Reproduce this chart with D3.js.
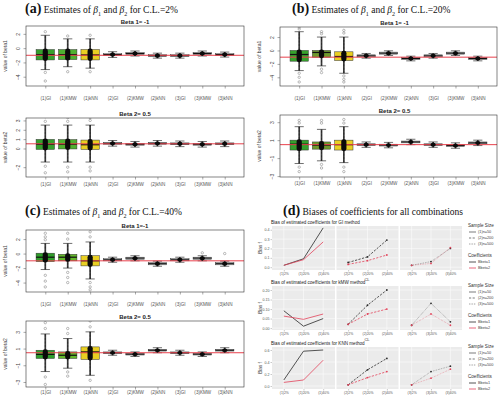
<!DOCTYPE html>
<html>
<head>
<meta charset="utf-8">
<title>Estimates and biases of beta1 and beta2</title>
<script src="https://d3js.org/d3.v7.min.js"></script>
<style>
  body { margin: 0; background: #fff; }
  text { font-family: "Liberation Sans", Arial, sans-serif; }
  .serif { font-family: "Liberation Serif", "Times New Roman", serif; }
</style>
</head>
<body>
<svg width="500" height="396"></svg>
<script>
// ---------- data ----------
const cats = ["(1)GI", "(1)KMW", "(1)kNN", "(2)GI", "(2)KMW", "(2)kNN", "(3)GI", "(3)KMW", "(3)kNN"];

// boxplot stats per category: [lower whisker, q1, median, q3, upper whisker]
const a1Stats = [[-3.0,-1.65,-0.9,-0.2,1.8],[-2.6,-1.6,-0.9,-0.2,1.3],[-2.8,-1.65,-0.95,-0.2,1.3],
  [-1.3,-1.05,-0.9,-0.75,-0.5],[-1.1,-0.9,-0.75,-0.6,-0.4],[-1.4,-1.2,-1.05,-0.9,-0.7],
  [-1.4,-1.2,-1.05,-0.9,-0.7],[-1.1,-0.9,-0.75,-0.6,-0.4],[-1.25,-1.05,-0.9,-0.75,-0.55]];
const a1Out = [[-3.4,-4.6,2.3],[-3.3,1.7],[-3.3,1.8],[],[],[],[],[],[]];

const a2Stats = [[-1.45,-0.1,0.45,0.97,2.5],[-1.45,-0.05,0.45,0.95,2.5],[-1.45,-0.1,0.4,0.9,2.5],
  [0.25,0.45,0.55,0.65,0.85],[0.15,0.35,0.45,0.55,0.75],[0.25,0.45,0.55,0.65,0.85],
  [0.2,0.4,0.5,0.6,0.8],[0.15,0.35,0.45,0.55,0.75],[0.2,0.4,0.5,0.6,0.8]];
const a2Out = [[2.9,3.4,-1.9,-2.6],[2.9,3.3,-2.0,-2.5],[3.0,3.3,-2.0,-2.4],[],[],[],[],[],[]];

const b1Stats = [[-3.0,-1.6,-0.6,0.0,2.8],[-2.3,-1.0,-0.3,0.0,2.0],[-3.4,-1.5,-0.9,-0.2,2.0],
  [-1.15,-0.95,-0.8,-0.65,-0.45],[-0.75,-0.55,-0.4,-0.25,-0.05],[-1.55,-1.35,-1.2,-1.05,-0.85],
  [-1.15,-0.95,-0.8,-0.65,-0.45],[-0.75,-0.55,-0.4,-0.25,-0.05],[-1.55,-1.35,-1.2,-1.05,-0.85]];
const b1Out = [[3.5,3.2,-3.4,-4.0,-4.7],[2.8,2.5,-2.8,-3.3],[3.0,2.6,-3.8,-4.3,-4.7],[],[],[],[],[],[]];

const b2Stats = [[-1.6,-0.1,0.55,1.0,2.5],[-1.3,0.0,0.45,0.8,2.2],[-1.5,-0.1,0.5,1.0,2.5],
  [0.2,0.4,0.5,0.6,0.8],[0.15,0.35,0.45,0.55,0.75],[0.5,0.7,0.8,0.9,1.1],
  [0.2,0.4,0.5,0.6,0.8],[0.1,0.3,0.4,0.5,0.7],[0.4,0.6,0.7,0.8,1.0]];
const b2Out = [[3.2,2.9,-2.0,-2.5],[2.9,3.2,-1.7,-2.1],[3.3,2.9,-2.0,-2.5],[],[],[],[],[],[]];

const c1Stats = [[-2.2,-1.1,-0.5,0.05,1.4],[-2.0,-1.0,-0.5,-0.1,1.4],[-3.5,-1.7,-1.0,-0.3,1.6],
  [-1.2,-1.0,-0.86,-0.7,-0.5],[-1.0,-0.8,-0.63,-0.5,-0.3],[-1.75,-1.55,-1.4,-1.25,-1.05],
  [-1.2,-1.0,-0.86,-0.7,-0.5],[-1.0,-0.8,-0.63,-0.5,-0.3],[-1.75,-1.55,-1.4,-1.25,-1.05]];
const c1Out = [[2.8,2.3,1.9,-3.0,-3.8,-4.6],[2.8,2.0,-2.6,-3.3,-4.0],[3.0,2.3,-4.0,-4.6,-5.0],[],[],[],[],[0.1],[0.0]];

const c2Stats = [[-1.75,-0.18,0.3,0.8,2.75],[-1.35,-0.18,0.2,0.6,2.2],[-2.2,-0.3,0.6,1.2,3.0],
  [0.2,0.4,0.5,0.6,0.8],[0.05,0.23,0.33,0.43,0.6],[0.5,0.7,0.8,0.9,1.1],
  [0.2,0.4,0.5,0.6,0.8],[0.05,0.23,0.33,0.43,0.6],[0.5,0.7,0.8,0.9,1.1]];
const c2Out = [[3.4,4.1,-2.4,-3.3],[2.8,3.4,-1.8,-2.3],[3.6,4.3,-2.8],[],[],[],[],[],[]];

// panel (d): bias per facet (sample size) x confidence level
const clLabels = [["(1)2%","(1)20%","(1)40%"],["(2)2%","(2)20%","(2)40%"],["(3)2%","(3)20%","(3)40%"]];
const giBias1 = [[0.02,0.09,0.42],[0.05,0.11,0.29],[0.02,0.06,0.20]];
const giBias2 = [[0.02,0.08,0.27],[0.03,0.07,0.13],[0.02,0.04,0.21]];
const kmwBias1 = [[0.091,0.01,0.05],[0.02,0.12,0.20],[0.015,0.13,0.033]];
const kmwBias2 = [[0.063,0.046,0.074],[0.02,0.074,0.10],[0.015,0.074,0.015]];
const knnBias1 = [[0.10,0.58,0.60],[0.02,0.27,0.46],[0.02,0.24,0.33]];
const knnBias2 = [[0.06,0.10,0.43],[0.02,0.14,0.24],[0.02,0.13,0.28]];
const sizeLabels = ["(1)n=50", "(2)n=200", "(3)n=500"];
const coefLabels = ["Bbeta1", "Bbeta2"];

// ---------- drawing ----------
const svg = d3.select("svg");
const red = "#e2435a";
const redLine = "#e8404c";

function panelTitle(x, y, letter, rest) {
  const t = svg.append("text").attr("class", "serif").attr("x", x).attr("y", y).attr("fill", "#111");
  t.append("tspan").attr("font-size", 14).attr("font-weight", "bold").text(letter);
  rest.forEach(p => {
    const s = t.append("tspan").attr("font-size", p.sub ? 6 : 9.5).text(p.t);
    if (p.it) s.attr("font-style", "italic");
    if (p.sub) s.attr("baseline-shift", "sub");
  });
}

const betaTitle = cl => [{t: " Estimates of "}, {t: "β", it: true}, {t: "1", sub: true}, {t: " and "},
  {t: "β", it: true}, {t: "2", sub: true}, {t: "  for C.L.=" + cl}];

panelTitle(25, 13, "(a)", betaTitle("2%"));
panelTitle(292, 13, "(b)", betaTitle("20%"));
panelTitle(25, 215, "(c)", betaTitle("40%"));
panelTitle(283, 215, "(d)", [{t: " Biases of coefficients for all combinations"}]);

let clipId = 0;
function boxPanel(o) {
  const g = svg.append("g");
  const x = d3.scaleLinear().domain([0.14, 9.86]).range([o.x0, o.x1]);
  const y = d3.scaleLinear().domain(o.domain).range([o.y1, o.y0]);
  const id = "clip" + (clipId++);
  svg.append("clipPath").attr("id", id).append("rect")
    .attr("x", o.x0).attr("y", o.y0).attr("width", o.x1 - o.x0).attr("height", o.y1 - o.y0);
  const inner = g.append("g").attr("clip-path", "url(#" + id + ")");
  const hw = (x(1.41) - x(1));

  o.stats.forEach((s, i) => {
    const cx = x(i + 1);
    inner.append("line").attr("x1", cx).attr("x2", cx).attr("y1", y(s[0])).attr("y2", y(s[4]))
      .attr("stroke", "#444").attr("stroke-width", 0.6).attr("stroke-dasharray", "2,1.5");
    [s[0], s[4]].forEach(v => inner.append("line")
      .attr("x1", cx - hw / 2).attr("x2", cx + hw / 2).attr("y1", y(v)).attr("y2", y(v))
      .attr("stroke", "#333").attr("stroke-width", 0.7));
    inner.append("rect").attr("x", cx - hw).attr("width", 2 * hw)
      .attr("y", y(s[3])).attr("height", y(s[1]) - y(s[3]))
      .attr("fill", o.fills[i]).attr("stroke", "#333").attr("stroke-width", 0.5);
    inner.append("line").attr("x1", cx - hw).attr("x2", cx + hw).attr("y1", y(s[2])).attr("y2", y(s[2]))
      .attr("stroke", "#111").attr("stroke-width", 1.2);
  });

  inner.append("line").attr("x1", o.x0).attr("x2", o.x1).attr("y1", y(o.ref)).attr("y2", y(o.ref))
    .attr("stroke", redLine).attr("stroke-width", 1);

  // overlaid observations (dense column of points)
  o.stats.forEach((s, i) => {
    const cx = x(i + 1);
    inner.append("line").attr("x1", cx).attr("x2", cx).attr("y1", y(s[0])).attr("y2", y(s[4]))
      .attr("stroke", "#1a1a1a").attr("stroke-width", 1.7).attr("opacity", 0.85);
    inner.append("rect").attr("x", cx - 2.6).attr("width", 5.2)
      .attr("y", y(s[3]) - 1).attr("height", y(s[1]) - y(s[3]) + 2).attr("rx", 2.4)
      .attr("fill", "#0a0a0a");
    o.outs[i].forEach(v => inner.append("circle").attr("cx", cx).attr("cy", y(v)).attr("r", 1.2)
      .attr("fill", "none").attr("stroke", "#777").attr("stroke-width", 0.5));
  });

  g.append("rect").attr("x", o.x0).attr("y", o.y0).attr("width", o.x1 - o.x0).attr("height", o.y1 - o.y0)
    .attr("fill", "none").attr("stroke", "#333").attr("stroke-width", 0.6);

  const ya = g.append("g").attr("transform", "translate(" + o.x0 + ",0)")
    .call(d3.axisLeft(y).tickValues(o.ticks).tickSize(2.5).tickFormat(d3.format("d")));
  ya.select(".domain").remove();
  ya.selectAll("line").attr("stroke", "#555").attr("stroke-width", 0.5);
  ya.selectAll("text").attr("x", 0).attr("dy", 0).attr("text-anchor", "middle")
    .attr("transform", "translate(-6,0) rotate(-90)").attr("font-size", 5).attr("fill", "#444");

  const xa = g.append("g").attr("transform", "translate(0," + o.y1 + ")")
    .call(d3.axisBottom(x).tickValues(d3.range(1, 10)).tickSize(2.5).tickFormat(i => cats[i - 1]));
  xa.select(".domain").remove();
  xa.selectAll("line").attr("stroke", "#555").attr("stroke-width", 0.5);
  xa.selectAll("text").attr("y", o.labY - o.y1).attr("dy", "0.35em").attr("font-size", 4.6).attr("fill", "#555");

  g.append("text").attr("x", (o.x0 + o.x1) / 2 + (o.tdx || 0)).attr("y", o.y0 - 2.5).attr("text-anchor", "middle")
    .attr("font-size", 6).attr("font-weight", "bold").attr("fill", "#222").text(o.title);
  g.append("text").attr("transform", "translate(" + (o.x0 - 19) + "," + ((o.y0 + o.y1) / 2) + ") rotate(-90)")
    .attr("text-anchor", "middle").attr("font-size", 5).attr("fill", "#444").text(o.ylab);
}

const fillsA = ["#36a12c", "#4fb030", "#e9cf22", "#fff", "#fff", "#fff", "#fff", "#fff", "#fff"];
const fillsB = ["#36a12c", "#6f9a2e", "#e9cf22", "#fff", "#fff", "#fff", "#fff", "#fff", "#fff"];
const fillsC = ["#2f9e2a", "#63b82b", "#e9cf22", "#fff", "#fff", "#fff", "#fff", "#fff", "#fff"];

boxPanel({x0: 26, x1: 244, y0: 26, y1: 86, domain: [-5.3, 3.1], ticks: [-4, -2, 0, 2], stats: a1Stats, outs: a1Out,
  fills: fillsA, ref: -1, title: "Beta 1= -1", ylab: "value of beta1", labY: 98});
boxPanel({x0: 26, x1: 244, y0: 118, y1: 177, domain: [-3.05, 3.26], ticks: [-2, 0, 1, 2, 3], stats: a2Stats, outs: a2Out,
  fills: fillsA, ref: 0.5, title: "Beta 2= 0.5", ylab: "value of beta2", labY: 184});
boxPanel({x0: 280, x1: 497, y0: 27, y1: 86, domain: [-5.3, 3.5], ticks: [-4, -2, 0, 2], stats: b1Stats, outs: b1Out,
  fills: fillsB, ref: -1, title: "Beta 1= -1", ylab: "value of beta1", labY: 98, tdx: 6});
boxPanel({x0: 280, x1: 497, y0: 115, y1: 177, domain: [-3.1, 3.8], ticks: [-3, -1, 1, 3], stats: b2Stats, outs: b2Out,
  fills: fillsB, ref: 0.5, title: "Beta 2= 0.5", ylab: "value of beta2", labY: 183, tdx: 6});
boxPanel({x0: 26, x1: 244, y0: 230, y1: 292, domain: [-5.3, 3.25], ticks: [-4, -2, 0, 2], stats: c1Stats, outs: c1Out,
  fills: fillsC, ref: -1, title: "Beta 1=-1", ylab: "value of beta1", labY: 304});
boxPanel({x0: 26, x1: 244, y0: 321, y1: 387, domain: [-3.6, 4.3], ticks: [-3, -1, 1, 3], stats: c2Stats, outs: c2Out,
  fills: fillsC, ref: 0.5, title: "Beta 2= 0.5", ylab: "value of beta2", labY: 392.5});

// ---------- panel (d) ----------
const facetX = [[272, 335], [336.5, 398.5], [400, 462]];
const dashes = [null, "2.2,1.4", "0.7,1"];

function biasPanel(o) {
  const g = svg.append("g");
  const y = d3.scaleLinear().domain(o.domain).range([o.y1, o.y0]);
  g.append("text").attr("x", 271).attr("y", o.y0 - 2.5).attr("font-size", 4.6).attr("fill", "#222").text(o.title);

  facetX.forEach((fx, f) => {
    const x = d3.scalePoint().domain(clLabels[f]).range(fx).padding(0.6);
    g.append("rect").attr("x", fx[0]).attr("y", o.y0).attr("width", fx[1] - fx[0]).attr("height", o.y1 - o.y0)
      .attr("fill", "#ebebeb");
    o.ticks.forEach(t => g.append("line").attr("x1", fx[0]).attr("x2", fx[1]).attr("y1", y(t)).attr("y2", y(t))
      .attr("stroke", "#fff").attr("stroke-width", 0.5));
    clLabels[f].forEach(l => g.append("line").attr("x1", x(l)).attr("x2", x(l)).attr("y1", o.y0).attr("y2", o.y1)
      .attr("stroke", "#fff").attr("stroke-width", 0.5));

    [[o.b1, "#2a2a2a"], [o.b2, red]].forEach(([ser, col]) => {
      const line = d3.line().x((d, i) => x(clLabels[f][i])).y(d => y(d));
      g.append("path").datum(ser[f]).attr("d", line).attr("fill", "none").attr("stroke", col)
        .attr("stroke-width", f === 2 ? 0.6 : 0.8).attr("stroke-dasharray", dashes[f])
        .attr("opacity", f === 2 ? 0.75 : 1);
      if (f > 0) g.selectAll(null).data(ser[f]).enter().append("circle")
        .attr("cx", (d, i) => x(clLabels[f][i])).attr("cy", d => y(d)).attr("r", 0.9).attr("fill", col);
    });

    const xa = g.append("g").attr("transform", "translate(0," + o.y1 + ")")
      .call(d3.axisBottom(x).tickSize(1.5).tickPadding(1));
    xa.select(".domain").remove();
    xa.selectAll("line").attr("stroke", "#777").attr("stroke-width", 0.4);
    xa.selectAll("text").attr("font-size", 3.4).attr("fill", "#555");
  });

  const ya = g.append("g").attr("transform", "translate(" + facetX[0][0] + ",0)")
    .call(d3.axisLeft(y).tickValues(o.ticks).tickSize(1.5).tickPadding(1).tickFormat(d3.format(o.fmt)));
  ya.select(".domain").remove();
  ya.selectAll("line").attr("stroke", "#777").attr("stroke-width", 0.4);
  ya.selectAll("text").attr("font-size", 3.6).attr("fill", "#555");

  g.append("text").attr("transform", "translate(262," + ((o.y0 + o.y1) / 2) + ") rotate(-90)")
    .attr("text-anchor", "middle").attr("font-size", 4.6).attr("fill", "#333").text("Bias f");
  if (o.cl) g.append("text").attr("x", 367).attr("y", o.y1 + 10.5).attr("text-anchor", "middle")
    .attr("font-size", 4).attr("fill", "#333").text("CL");

  // legend
  const lx = 468;
  g.append("text").attr("x", lx).attr("y", o.y0 + 1).attr("font-size", 4.6).attr("fill", "#333").text("Sample Size");
  sizeLabels.forEach((s, i) => {
    const ly = o.y0 + 6 + i * 6;
    g.append("line").attr("x1", lx + 1).attr("x2", lx + 8).attr("y1", ly).attr("y2", ly)
      .attr("stroke", "#444").attr("stroke-width", 0.7).attr("stroke-dasharray", dashes[i]);
    g.append("text").attr("x", lx + 10).attr("y", ly + 1.3).attr("font-size", 3.8).attr("fill", "#444").text(s);
  });
  g.append("text").attr("x", lx).attr("y", o.y0 + 31).attr("font-size", 4.6).attr("fill", "#333").text("Coefficients");
  coefLabels.forEach((s, i) => {
    const ly = o.y0 + 36 + i * 6;
    g.append("line").attr("x1", lx + 1).attr("x2", lx + 8).attr("y1", ly).attr("y2", ly)
      .attr("stroke", i === 0 ? "#2a2a2a" : red).attr("stroke-width", 0.8);
    g.append("text").attr("x", lx + 10).attr("y", ly + 1.3).attr("font-size", 3.8).attr("fill", "#444").text(s);
  });
}

biasPanel({title: "Bias of estimated coefficients for GI method", y0: 226, y1: 270, domain: [-0.03, 0.44],
  ticks: [0, 0.1, 0.2, 0.3, 0.4], fmt: ".1f", b1: giBias1, b2: giBias2, cl: true});
biasPanel({title: "Bias of estimated coefficients for kMW method", y0: 286, y1: 330, domain: [-0.01, 0.221],
  ticks: [0, 0.05, 0.1, 0.15, 0.2], fmt: ".2f", b1: kmwBias1, b2: kmwBias2, cl: true});
biasPanel({title: "Bias of estimated coefficients for KNN method", y0: 347, y1: 389, domain: [-0.05, 0.65],
  ticks: [0, 0.2, 0.4, 0.6], fmt: ".1f", b1: knnBias1, b2: knnBias2, cl: false});
</script>
</body>
</html>
